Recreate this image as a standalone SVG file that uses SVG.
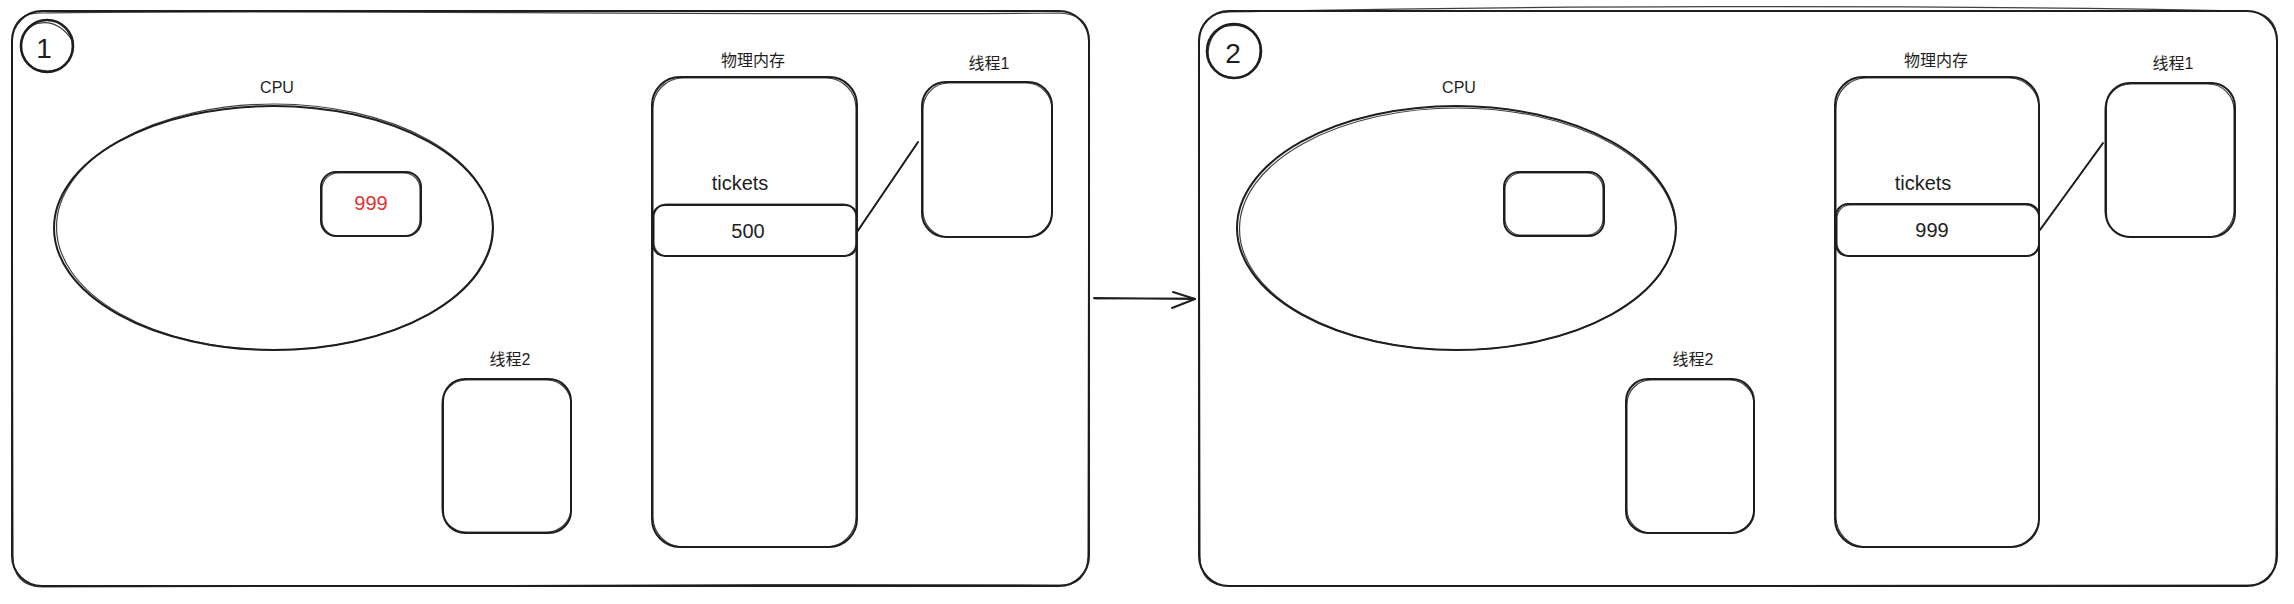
<svg xmlns="http://www.w3.org/2000/svg" width="2294" height="604" viewBox="0 0 2294 604">
<style>
.s{fill:none;stroke:#1e1e1e;stroke-width:2;stroke-linecap:round;stroke-linejoin:round}
.s2{fill:none;stroke:#1e1e1e;stroke-width:1.2;stroke-linecap:round;stroke-linejoin:round;opacity:0.85}
.b{stroke-width:2.6}
.t{font-family:"Liberation Sans","Noto Sans CJK SC",sans-serif;fill:#1e1e1e;text-anchor:middle;dominant-baseline:central}
.lbl{font-size:16px}
.val{font-size:20px}
.num{font-size:28px}
.red{fill:#e03131}
</style>
<rect x="0" y="0" width="2294" height="604" fill="#ffffff"/>

<!-- Panel 1 -->
<g id="frame1">
<rect class="s" x="12" y="11" width="1077" height="575" rx="30"/>
<path class="s2" d="M42 13 C300 9 700 16 1059 13 Q1090 14 1089 42 L1088 556 Q1087 587 1058 585 C700 583 300 588 42 587 Q13 586 13 556 L12 42 Q12 12 42 13"/>
</g>
<g id="badge1">
<circle class="s b" cx="47" cy="46" r="26"/>
<path class="s2" d="M30 26 Q55 15 72 40 Q76 68 48 71 Q22 70 21 46 Q22 30 36 24"/>
<text class="t num" x="44" y="48">1</text>
</g>
<g id="cpu1">
<text class="t lbl" x="277" y="87">CPU</text>
<ellipse class="s" cx="273.5" cy="228" rx="219.5" ry="122"/>
<ellipse class="s2" cx="274.5" cy="227" rx="218" ry="123"/>
</g>
<g id="reg1">
<rect class="s" x="321" y="172" width="100" height="64" rx="15"/>
<rect class="s2" x="322" y="173" width="98" height="63" rx="16"/>
<text class="t val red" x="371" y="203">999</text>
</g>
<g id="mem1">
<text class="t lbl" x="753" y="60">物理内存</text>
<rect class="s" x="652" y="77" width="205" height="470" rx="28"/>
<rect class="s2" x="653" y="78" width="203" height="469" rx="30"/>
</g>
<g id="tickets1">
<text class="t val" x="740" y="183">tickets</text>
<rect class="s" x="653" y="205" width="204" height="51" rx="12"/>
<rect class="s2" x="654" y="204" width="202" height="52" rx="13"/>
<text class="t val" x="748" y="231">500</text>
</g>
<g id="thread1a">
<text class="t lbl" x="989" y="63">线程1</text>
<rect class="s" x="922" y="82" width="130" height="155" rx="24"/>
<rect class="s2" x="923" y="83" width="129" height="154" rx="26"/>
</g>
<g id="thread2a">
<text class="t lbl" x="510" y="359">线程2</text>
<rect class="s" x="443" y="379" width="128" height="154" rx="22"/>
<rect class="s2" x="442" y="380" width="129" height="152" rx="24"/>
</g>

<!-- Panel 2 -->
<g id="frame2">
<rect class="s" x="1199" y="11" width="1078" height="575" rx="30"/>
<path class="s2" d="M1229 12 C1500 6 1900 4 2247 11 Q2278 13 2277 42 L2276 556 Q2275 587 2246 585 C1900 585 1500 587 1229 586 Q1200 586 1200 556 L1199 42 Q1200 13 1229 12"/>
</g>
<g id="badge2">
<circle class="s b" cx="1234" cy="51" r="27"/>
<path class="s2" d="M1222 27 Q1252 20 1260 45 Q1262 74 1236 78 Q1208 76 1208 52 Q1210 32 1226 26"/>
<text class="t num" x="1233" y="53">2</text>
</g>
<g id="cpu2">
<text class="t lbl" x="1459" y="87">CPU</text>
<ellipse class="s" cx="1456.5" cy="228" rx="219.5" ry="122"/>
<ellipse class="s2" cx="1457.5" cy="229" rx="218" ry="121"/>
</g>
<g id="reg2">
<rect class="s" x="1504" y="172" width="100" height="64" rx="15"/>
<rect class="s2" x="1505" y="173" width="98" height="62" rx="16"/>
</g>
<g id="mem2">
<text class="t lbl" x="1936" y="60">物理内存</text>
<rect class="s" x="1835" y="77" width="204" height="470" rx="28"/>
<rect class="s2" x="1836" y="78" width="203" height="469" rx="30"/>
</g>
<g id="tickets2">
<text class="t val" x="1923" y="183">tickets</text>
<rect class="s" x="1836" y="204" width="203" height="52" rx="12"/>
<rect class="s2" x="1837" y="205" width="202" height="51" rx="13"/>
<text class="t val" x="1932" y="230">999</text>
</g>
<g id="thread1b">
<text class="t lbl" x="2173" y="63">线程1</text>
<rect class="s" x="2106" y="83" width="129" height="154" rx="24"/>
<rect class="s2" x="2105" y="84" width="129" height="153" rx="26"/>
</g>
<g id="thread2b">
<text class="t lbl" x="1693" y="359">线程2</text>
<rect class="s" x="1626" y="379" width="128" height="154" rx="22"/>
<rect class="s2" x="1627" y="380" width="127" height="153" rx="24"/>
</g>

<!-- Connectors -->
<g id="connectors">
<path class="s" d="M857 232 L918 142"/>
<path class="s2" d="M858 230 L917 144"/>
<path class="s" d="M2040 230 L2103 143"/>
<path class="s2" d="M2041 228 L2102 145"/>
<path class="s" d="M1094 298 L1195 299"/>
<path class="s2" d="M1095 299 L1194 298"/>
<path class="s" d="M1173 292 L1195 299 L1172 308"/>
</g>
</svg>
